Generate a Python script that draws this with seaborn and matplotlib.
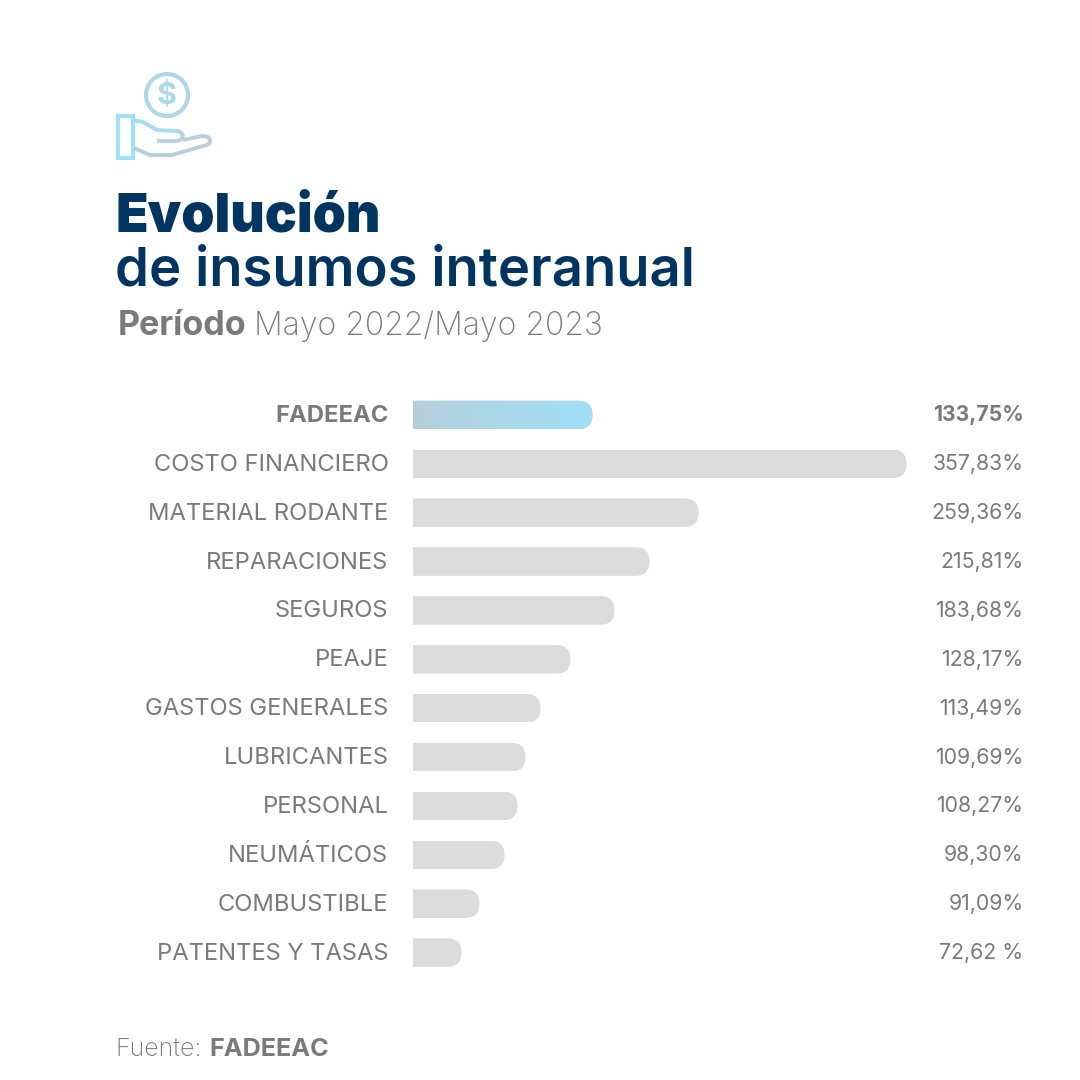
import matplotlib.pyplot as plt
import numpy as np
import pandas as pd
import seaborn as sns
from matplotlib.colors import LinearSegmentedColormap
from matplotlib.patches import Circle, FancyBboxPatch, PathPatch, Rectangle
from matplotlib.path import Path
from matplotlib.transforms import ScaledTranslation

SIZE = 1080
GRAY_TEXT = "#7a7a7a"
NAVY = "#003562"
BAR_GRAY = "#dbdbdb"
SKY = "#a0e0f8"
STEEL = "#b5cfdb"

# largo = drawn bar length in px, the bars in the original are not proportional to the labels
df = pd.DataFrame({
    "insumo": ["FADEEAC", "COSTO FINANCIERO", "MATERIAL RODANTE", "REPARACIONES", "SEGUROS", "PEAJE",
               "GASTOS GENERALES", "LUBRICANTES", "PERSONAL", "NEUMÁTICOS", "COMBUSTIBLE", "PATENTES Y TASAS"],
    "largo": [180, 494, 286, 237, 202, 158, 128, 113, 105, 92, 67, 49],
    "valor": ["133,75%", "357,83%", "259,36%", "215,81%", "183,68%", "128,17%",
              "113,49%", "109,69%", "108,27%", "98,30%", "91,09%", "72,62 %"],
})

sns.set_style("white")
plt.rcParams["font.family"] = ["Inter", "DejaVu Sans"]

fig = plt.figure(figsize=(SIZE / 100, SIZE / 100), dpi=100, facecolor="white")


def px_text(x, y, s, **kwargs):
    # pixel coords from top left, like reading them off the picture
    fig.text(x / SIZE, 1 - y / SIZE, s, va="baseline", **kwargs)


# chart axes: one x unit is one pixel
top, bottom, left, right = 390.5, 977, 412.5, 906.5
ax = fig.add_axes([left / SIZE, 1 - bottom / SIZE, (right - left) / SIZE, (bottom - top) / SIZE])
sns.barplot(data=df, x="largo", y="insumo", color=BAR_GRAY, width=0.585, saturation=1, ax=ax)
ax.set_xlim(0, right - left)
ax.set_ylim(len(df) - 0.5, -0.5)
ax.set_xlabel(None)
ax.set_ylabel(None)
ax.set_xticks([])
ax.tick_params(axis="y", length=0, pad=17.3, labelsize=17.1, labelcolor=GRAY_TEXT)
sns.despine(ax=ax, left=True, bottom=True)

row_px = (bottom - top) / len(df)
for bar in ax.patches:
    x0, y0, w, h = bar.get_x(), bar.get_y(), bar.get_width(), bar.get_height()
    # rounded box that starts left of the bar, so only the right end ends up round
    cap = FancyBboxPatch((x0 - 30, y0), w + 30, h, boxstyle="round,pad=0,rounding_size=14.3",
                         mutation_aspect=1 / row_px, transform=ax.transData)
    bar.set_clip_path(cap)
    bar.set_edgecolor("none")

# FADEEAC bar has a gradient
first = ax.patches[0]
grad = LinearSegmentedColormap.from_list("fadeeac", [STEEL, SKY])
img = ax.imshow(np.linspace(0, 1, 256).reshape(1, -1), cmap=grad, aspect="auto", zorder=3,
                extent=(first.get_x(), first.get_x() + first.get_width(),
                        first.get_y() + first.get_height(), first.get_y()))
img.set_clip_path(first.get_clip_path())
ax.set_xlim(0, right - left)
ax.set_ylim(len(df) - 0.5, -0.5)

# labels sit a bit above the bar centres in the original
nudge = ScaledTranslation(0, 1.5 / 100, fig.dpi_scale_trans)
for label in ax.get_yticklabels():
    label.set_transform(label.get_transform() + nudge)
ax.get_yticklabels()[0].set_fontweight("bold")
for i, row in df.iterrows():
    ax.text(1023.5 - left, i, row["valor"], ha="right", va="center_baseline", fontsize=15.3, color=GRAY_TEXT,
            fontweight="bold" if i == 0 else "normal", clip_on=False,
            transform=ax.transData + nudge)

# header
px_text(115, 231, "Evolución", fontsize=38.3, fontweight="black", color=NAVY)
px_text(115, 286, "de insumos interanual", fontsize=39.2, fontweight="semibold", color=NAVY)
px_text(118, 335, "Período", fontsize=24.5, fontweight="bold", color=GRAY_TEXT)
px_text(254, 335, "Mayo 2022/Mayo 2023", fontsize=23, fontweight="light", color=GRAY_TEXT)

# footer
px_text(115, 1056, "Fuente:", fontsize=18, fontweight="light", color=GRAY_TEXT)
px_text(209, 1056, "FADEEAC", fontsize=18.2, fontweight="bold", color=GRAY_TEXT)

# hand + coin icon, overlay in pixel coords
icon = fig.add_axes([0, 0, 1, 1], facecolor="none")
icon.set_xlim(0, SIZE)
icon.set_ylim(SIZE, 0)
icon.axis("off")
icon.add_patch(Circle((167, 95), 21, fill=False, lw=3, ec="#aed8e8"))
icon.text(167, 96, "$", ha="center", va="center", fontsize=22, fontweight="bold", color="#aed8e8")
icon.add_patch(Rectangle((118, 116), 15, 42, fill=False, lw=3, ec=SKY))

upper = [(133, 120), (143, 122), (157, 130), (176, 131)]
thumb = [(176, 131), (185, 131), (185, 141), (176, 141), (157, 141)]
codes = [Path.MOVETO, Path.CURVE4, Path.CURVE4, Path.CURVE4, Path.LINETO]
icon.plot(*zip(*upper), color="#a8dcf0", lw=2.8, solid_joinstyle="round")
icon.add_patch(PathPatch(Path(thumb, codes), fill=False, lw=2.8, ec="#b5d2de"))
palm = [(183, 140), (202, 136), (211, 136), (210, 142), (209, 145), (203, 146), (172, 155), (150, 155), (134, 148)]
palm_codes = [Path.MOVETO, Path.LINETO, Path.CURVE3, Path.CURVE3, Path.CURVE3, Path.CURVE3,
              Path.LINETO, Path.LINETO, Path.LINETO]
icon.add_patch(PathPatch(Path(palm, palm_codes), fill=False, lw=2.8, ec="#b8ced8"))

fig.savefig("out.png", dpi=100)
